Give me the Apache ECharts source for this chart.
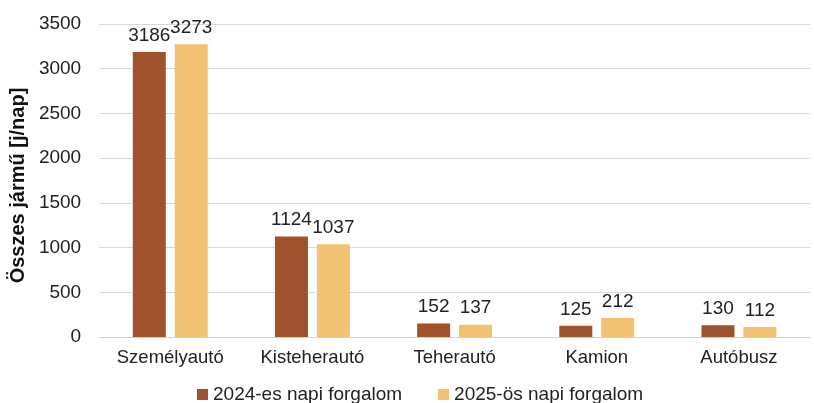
<!DOCTYPE html>
<html>
<head>
<meta charset="utf-8">
<script src="https://cdn.jsdelivr.net/npm/echarts@6/dist/echarts.min.js"></script>
<style>
  html, body { margin: 0; padding: 0; background: #fff; }
  #chart { width: 814px; height: 403px; }
</style>
</head>
<body>
<div id="chart"></div>
<script>
const categories = ['Személyautó', 'Kisteherautó', 'Teherautó', 'Kamion', 'Autóbusz']
const forgalom2024 = [3186, 1124, 152, 125, 130]
const forgalom2025 = [3273, 1037, 137, 212, 112]
const seriesNames = ['2024-es napi forgalom', '2025-ös napi forgalom']

const font = 'Arial, "Liberation Sans", sans-serif'
const chart = echarts.init(document.getElementById('chart'))
chart.setOption({
  animation: false,
  textStyle: { fontFamily: font },
  legend: {
    data: seriesNames,
    bottom: -6,
    left: 192,
    itemWidth: 11,
    itemHeight: 11,
    itemGap: 36,
    icon: 'rect',
    textStyle: { fontSize: 19, color: '#222', fontFamily: font }
  },
  grid: { left: 99, right: 4, top: 24, bottom: 66 },
  xAxis: {
    type: 'category',
    data: categories,
    axisTick: { show: false },
    axisLine: { lineStyle: { color: '#d0d0d0', width: 1 } },
    axisLabel: { fontSize: 18.5, color: '#222', margin: 11, fontFamily: font }
  },
  yAxis: {
    type: 'value',
    min: 0,
    max: 3500,
    interval: 500,
    name: 'Összes jármű [j/nap]',
    nameLocation: 'middle',
    nameGap: 71,
    nameTextStyle: { fontSize: 20, fontWeight: 'bold', color: '#111', fontFamily: font, padding: [0, 10, 0, 0] },
    axisLabel: { fontSize: 19, color: '#222', margin: 18, fontFamily: font, formatter: v => String(v) },
    splitLine: { lineStyle: { color: '#d9d9d9', width: 1 } }
  },
  series: [
    {
      name: seriesNames[0],
      type: 'bar',
      data: forgalom2024,
      barWidth: 33,
      barGap: '27%',
      itemStyle: { color: '#A0522D' },
      label: { show: true, position: 'top', fontSize: 19, color: '#222', distance: 7, fontFamily: font }
    },
    {
      name: seriesNames[1],
      type: 'bar',
      data: forgalom2025,
      barWidth: 33,
      itemStyle: { color: '#F0C271' },
      label: { show: true, position: 'top', fontSize: 19, color: '#222', distance: 7, fontFamily: font }
    }
  ]
})
</script>
</body>
</html>
